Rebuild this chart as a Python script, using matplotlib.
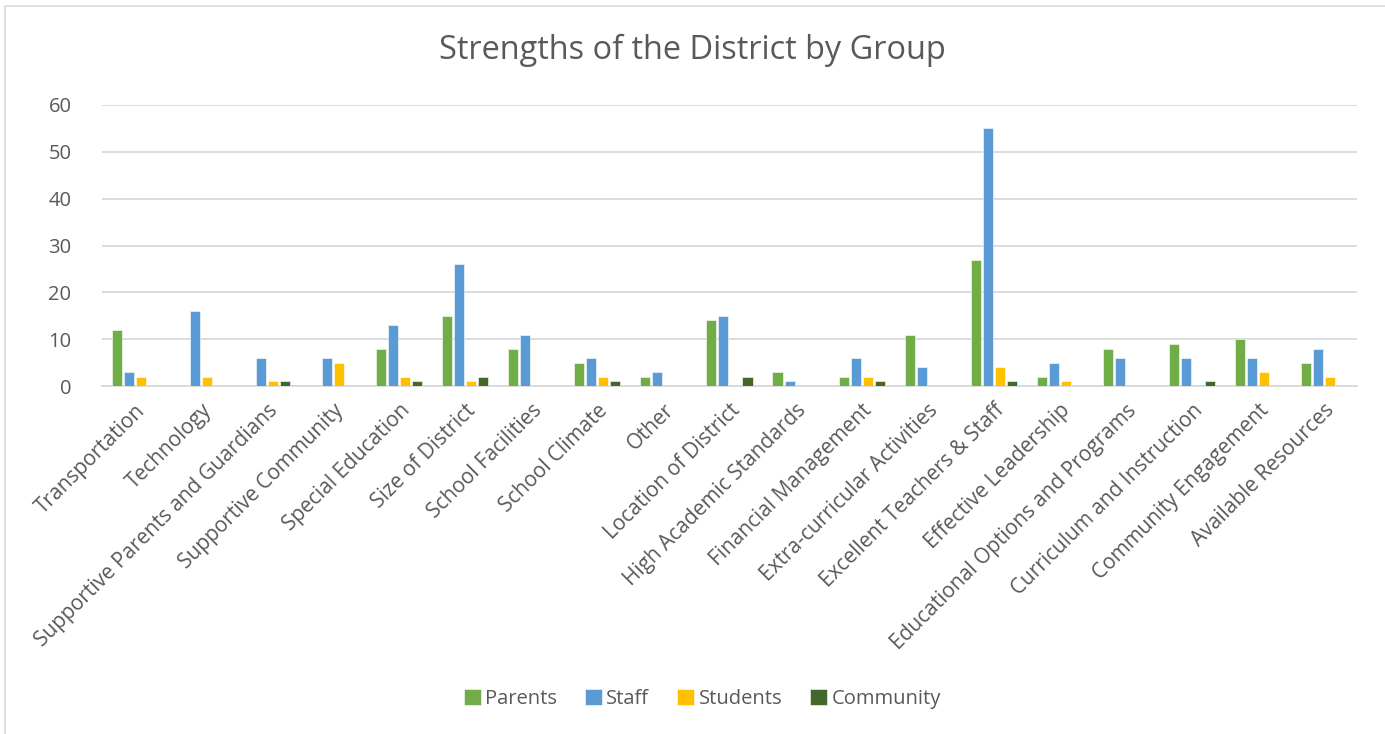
import matplotlib

matplotlib.use("Agg")

import matplotlib.pyplot as plt
import numpy as np
from matplotlib.patches import Rectangle

categories = [
    "Transportation",
    "Technology",
    "Supportive Parents and Guardians",
    "Supportive Community",
    "Special Education",
    "Size of District",
    "School Facilities",
    "School Climate",
    "Other",
    "Location of District",
    "High Academic Standards",
    "Financial Management",
    "Extra-curricular Activities",
    "Excellent Teachers & Staff",
    "Effective Leadership",
    "Educational Options and Programs",
    "Curriculum and Instruction",
    "Community Engagement",
    "Available Resources",
]

parents = [12, 0, 0, 0, 8, 15, 8, 5, 2, 14, 3, 2, 11, 27, 2, 8, 9, 10, 5]
staff = [3, 16, 6, 6, 13, 26, 11, 6, 3, 15, 1, 6, 4, 55, 5, 6, 6, 6, 8]
students = [2, 2, 1, 5, 2, 1, 0, 2, 0, 0, 0, 2, 0, 4, 1, 0, 0, 3, 2]
community = [0, 0, 1, 0, 1, 2, 0, 1, 0, 2, 0, 1, 0, 1, 0, 0, 1, 0, 0]

series_names = ["Parents", "Staff", "Students", "Community"]
series_colors = ["#70AD47", "#5B9BD5", "#FFC000", "#43682B"]

TEXT_COLOR = "#595959"
GRID_COLOR = "#D9D9D9"

plt.rcParams["font.family"] = ["Open Sans", "DejaVu Sans"]


def main() -> None:
    fig = plt.figure(figsize=(13.85, 7.34), dpi=100)
    ax = fig.add_axes([0.0736, 0.474, 0.9062, 0.383])

    # light frame of the chart area (only left/top visible in the reference)
    fig.patches.append(
        Rectangle((0.0036, -0.05), 1.2, 1.042, transform=fig.transFigure,
                  fill=False, edgecolor="#D9D9D9", linewidth=1.2)
    )

    x = np.arange(len(categories))
    step = 0.182
    width = 0.152
    all_series = [parents, staff, students, community]
    for i, (values, name, color) in enumerate(zip(all_series, series_names, series_colors)):
        offset = (i - 1.5) * step
        ax.bar(x + offset, values, width=width, color=color, label=name,
               edgecolor="white", linewidth=0.4, zorder=3)

    ax.set_xlim(-0.5, len(categories) - 0.5)
    ax.set_ylim(0, 60)
    ax.set_yticks(range(0, 61, 10))
    ax.yaxis.grid(True, color=GRID_COLOR, linewidth=1.3, zorder=0)
    ax.set_axisbelow(True)
    for side in ["top", "right", "left"]:
        ax.spines[side].set_visible(False)
    ax.spines["bottom"].set_color(GRID_COLOR)
    ax.spines["bottom"].set_linewidth(1.3)

    ax.set_xticks(x)
    ax.set_xticklabels(categories, rotation=45, ha="right", rotation_mode="anchor",
                       fontsize=15, color=TEXT_COLOR)
    ax.tick_params(axis="x", length=0, pad=10)
    ax.tick_params(axis="y", length=0, pad=22, labelsize=14.5, labelcolor=TEXT_COLOR)

    fig.text(0.5, 0.932, "Strengths of the District by Group", ha="center", va="center",
             fontsize=23.4, color=TEXT_COLOR)

    fig.legend(loc="center", bbox_to_anchor=(0.507, 0.048), ncol=4, frameon=False,
               fontsize=14.5, labelcolor=TEXT_COLOR, handlelength=0.85, handleheight=0.85,
               handletextpad=0.2, columnspacing=1.4)

    fig.savefig("out.png", dpi=100, facecolor="white")
    plt.close(fig)


if __name__ == "__main__":
    main()
